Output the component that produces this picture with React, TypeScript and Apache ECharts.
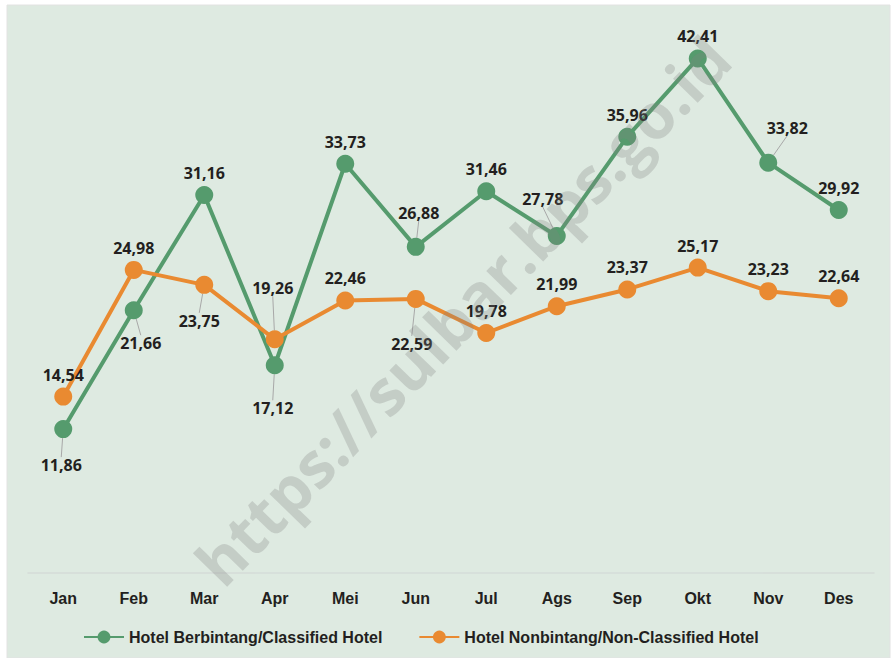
import React, { useEffect, useRef } from "react";
import * as echarts from "echarts";

const months = ["Jan", "Feb", "Mar", "Apr", "Mei", "Jun", "Jul", "Ags", "Sep", "Okt", "Nov", "Des"];
const classified = [11.86, 21.66, 31.16, 17.12, 33.73, 26.88, 31.46, 27.78, 35.96, 42.41, 33.82, 29.92];
const nonClassified = [14.54, 24.98, 23.75, 19.26, 22.46, 22.59, 19.78, 21.99, 23.37, 25.17, 23.23, 22.64];
const seriesNames = ["Hotel Berbintang/Classified Hotel", "Hotel Nonbintang/Non-Classified Hotel"];

// label offsets (label centre relative to point centre) for labels moved away from "top"
const labelMoves: Record<number, [number, number]>[] = [
  { 0: [-2, 35], 1: [7, 32], 3: [-2, 42], 5: [3, -35], 7: [-14, -38], 10: [19, -36] },
  { 2: [-5, 35], 3: [-2, -52], 5: [-4, 44] },
];

const GREEN = "#559b6d";
const ORANGE = "#e98a31";
const TEXT = "#231f20";
const NARROW = "'Liberation Sans Narrow', 'Liberation Sans', sans-serif";

const fmt = (v: number) => v.toFixed(2).replace(".", ",");

function buildData(values: number[], s: number) {
  return values.map((v, i) =>
    labelMoves[s][i] ? { value: v, labelLine: { show: true } } : { value: v }
  );
}

export default function App() {
  const ref = useRef<HTMLDivElement>(null);
  useEffect(() => {
    if (!ref.current) return;
    const chart = echarts.init(ref.current, null, { renderer: "svg" });
    const mkSeries = (name: string, values: number[], color: string, s: number) => ({
      name,
      type: "line",
      data: buildData(values, s),
      symbol: "circle",
      symbolSize: 18,
      lineStyle: { color, width: 4 },
      itemStyle: { color },
      label: {
        show: true,
        position: "top",
        distance: 5,
        formatter: (p: any) => fmt(p.value),
        color: TEXT,
        fontFamily: "'Open Sans', sans-serif",
        fontWeight: "bold",
        fontSize: 16,
      },
      labelLine: { show: false, lineStyle: { color: "#a8a8a8", width: 1 } },
      labelLayout: (p: any) => {
        const m = labelMoves[p.seriesIndex] && labelMoves[p.seriesIndex][p.dataIndex];
        if (!m) return {};
        return { dx: m[0], dy: m[1] + 23 };
      },
      emphasis: { disabled: true },
    });
    chart.setOption({
      animation: false,
      backgroundColor: "#ffffff",
      graphic: [
        {
          type: "rect",
          z: -10,
          shape: { x: 7, y: 5, width: 883, height: 653 },
          style: { fill: "#deeae1", stroke: "#e2e2e2", lineWidth: 1 },
        },
        {
          type: "text",
          z: 100,
          x: 462,
          y: 310,
          rotation: 0.8,
          style: {
            text: "https://sulbar.bps.go.id",
            fill: "rgba(128,128,128,0.28)",
            font: "bold 63px 'Open Sans', sans-serif",
            align: "center",
            verticalAlign: "middle",
          },
        },
      ],
      grid: { left: 28, right: 20, top: 27, height: 546 },
      xAxis: {
        type: "category",
        data: months,
        boundaryGap: true,
        axisLine: { show: true, lineStyle: { color: "#d5dcd8", width: 1.5 } },
        axisTick: { show: false },
        axisLabel: {
          color: TEXT,
          fontFamily: NARROW,
          fontWeight: "bold",
          fontSize: 16,
          margin: 17,
        },
      },
      yAxis: {
        type: "value",
        min: 0,
        max: 45,
        show: false,
        splitLine: { show: false },
      },
      legend: {
        left: 78,
        top: 624,
        itemWidth: 40,
        itemHeight: 16,
        itemGap: 36,
        textStyle: { color: TEXT, fontFamily: NARROW, fontWeight: "bold", fontSize: 16 },
        data: seriesNames,
      },
      series: [
        mkSeries(seriesNames[0], classified, GREEN, 0),
        mkSeries(seriesNames[1], nonClassified, ORANGE, 1),
      ],
    });
    return () => chart.dispose();
  }, []);
  return (
    <div style={{ position: "absolute", left: 0, top: 0, width: 894, height: 658 }}>
      <div ref={ref} style={{ width: 894, height: 658 }} />
    </div>
  );
}
